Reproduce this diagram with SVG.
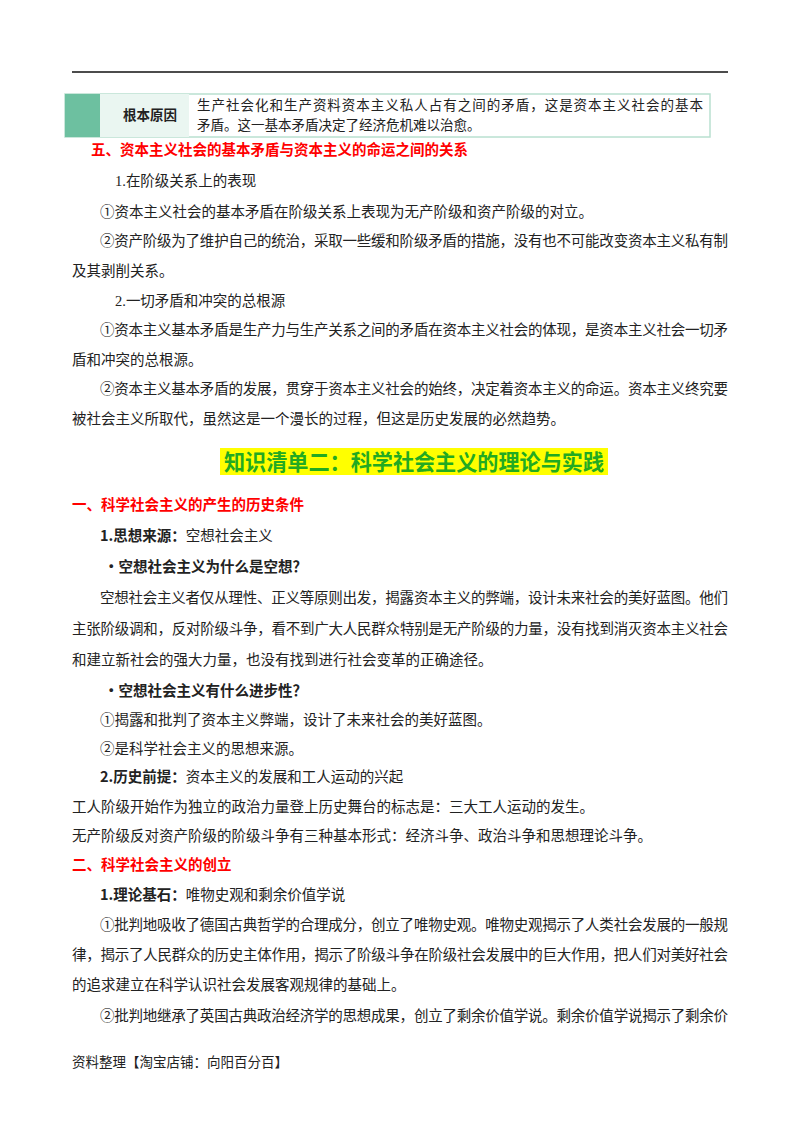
<svg xmlns="http://www.w3.org/2000/svg" width="800" height="1132" viewBox="0 0 800 1132">
<style>
text{font-family:"Liberation Serif","Noto Sans CJK SC",serif;font-size:14.5px;fill:#222}
.r{fill:#ff0000;font-weight:bold;font-family:"Noto Sans CJK SC",sans-serif}
.b{font-weight:bold;font-family:"Noto Sans CJK SC",sans-serif}
.t{font-size:13.5px}
</style>
<rect width="800" height="1132" fill="#fff"/>
<line x1="72" y1="72" x2="728" y2="72" stroke="#111" stroke-width="1.5"/>
<g id="table">
<rect x="65" y="94" width="645" height="43" fill="#fff" stroke="#b9e0d0" stroke-width="1.5"/>
<rect x="65" y="94" width="35" height="43" fill="#6dc0a0"/>
<rect x="100" y="94" width="89" height="43" fill="#eaf6f1"/>
<text x="150" y="120" class="b t" text-anchor="middle">根本原因</text>
<text x="197" y="110" class="t" textLength="506" lengthAdjust="spacing">生产社会化和生产资料资本主义私人占有之间的矛盾，这是资本主义社会的基本</text>
<text x="197" y="130" class="t">矛盾。这一基本矛盾决定了经济危机难以治愈。</text>
</g>
<text x="91" y="155" class="r">五、资本主义社会的基本矛盾与资本主义的命运之间的关系</text>
<text x="115" y="186">1.在阶级关系上的表现</text>
<text x="100" y="217">①资本主义社会的基本矛盾在阶级关系上表现为无产阶级和资产阶级的对立。</text>
<text x="100" y="246" textLength="628" lengthAdjust="spacing">②资产阶级为了维护自己的统治，采取一些缓和阶级矛盾的措施，没有也不可能改变资本主义私有制</text>
<text x="72" y="276">及其剥削关系。</text>
<text x="115" y="306">2.一切矛盾和冲突的总根源</text>
<text x="100" y="335" textLength="628" lengthAdjust="spacing">①资本主义基本矛盾是生产力与生产关系之间的矛盾在资本主义社会的体现，是资本主义社会一切矛</text>
<text x="72" y="365">盾和冲突的总根源。</text>
<text x="100" y="394" textLength="628" lengthAdjust="spacing">②资本主义基本矛盾的发展，贯穿于资本主义社会的始终，决定着资本主义的命运。资本主义终究要</text>
<text x="72" y="424">被社会主义所取代，虽然这是一个漫长的过程，但这是历史发展的必然趋势。</text>
<rect x="220" y="448" width="388" height="27" fill="#ffff00"/>
<text x="414" y="470" text-anchor="middle" style="font-size:22px;font-weight:bold;fill:#22aa22;font-family:'Noto Sans CJK SC',sans-serif" textLength="380" lengthAdjust="spacingAndGlyphs">知识清单二：科学社会主义的理论与实践</text>
<text x="72" y="510" class="r">一、科学社会主义的产生的历史条件</text>
<text x="100" y="541"><tspan class="b">1.思想来源：</tspan>空想社会主义</text>
<text x="104" y="572" class="b">•空想社会主义为什么是空想？</text>
<text x="100" y="603" textLength="628" lengthAdjust="spacing">空想社会主义者仅从理性、正义等原则出发，揭露资本主义的弊端，设计未来社会的美好蓝图。他们</text>
<text x="72" y="634" textLength="656" lengthAdjust="spacing">主张阶级调和，反对阶级斗争，看不到广大人民群众特别是无产阶级的力量，没有找到消灭资本主义社会</text>
<text x="72" y="665">和建立新社会的强大力量，也没有找到进行社会变革的正确途径。</text>
<text x="104" y="696" class="b">•空想社会主义有什么进步性？</text>
<text x="100" y="725">①揭露和批判了资本主义弊端，设计了未来社会的美好蓝图。</text>
<text x="100" y="754">②是科学社会主义的思想来源。</text>
<text x="100" y="782"><tspan class="b">2.历史前提：</tspan>资本主义的发展和工人运动的兴起</text>
<text x="72" y="812">工人阶级开始作为独立的政治力量登上历史舞台的标志是：三大工人运动的发生。</text>
<text x="72" y="841">无产阶级反对资产阶级的阶级斗争有三种基本形式：经济斗争、政治斗争和思想理论斗争。</text>
<text x="72" y="870" class="r">二、科学社会主义的创立</text>
<text x="100" y="900"><tspan class="b">1.理论基石：</tspan>唯物史观和剩余价值学说</text>
<text x="100" y="930" textLength="628" lengthAdjust="spacing">①批判地吸收了德国古典哲学的合理成分，创立了唯物史观。唯物史观揭示了人类社会发展的一般规</text>
<text x="72" y="960" textLength="656" lengthAdjust="spacing">律，揭示了人民群众的历史主体作用，揭示了阶级斗争在阶级社会发展中的巨大作用，把人们对美好社会</text>
<text x="72" y="990">的追求建立在科学认识社会发展客观规律的基础上。</text>
<text x="100" y="1021" textLength="628" lengthAdjust="spacing">②批判地继承了英国古典政治经济学的思想成果，创立了剩余价值学说。剩余价值学说揭示了剩余价</text>
<text x="72" y="1067" class="t">资料整理【淘宝店铺：向阳百分百】</text>
</svg>
